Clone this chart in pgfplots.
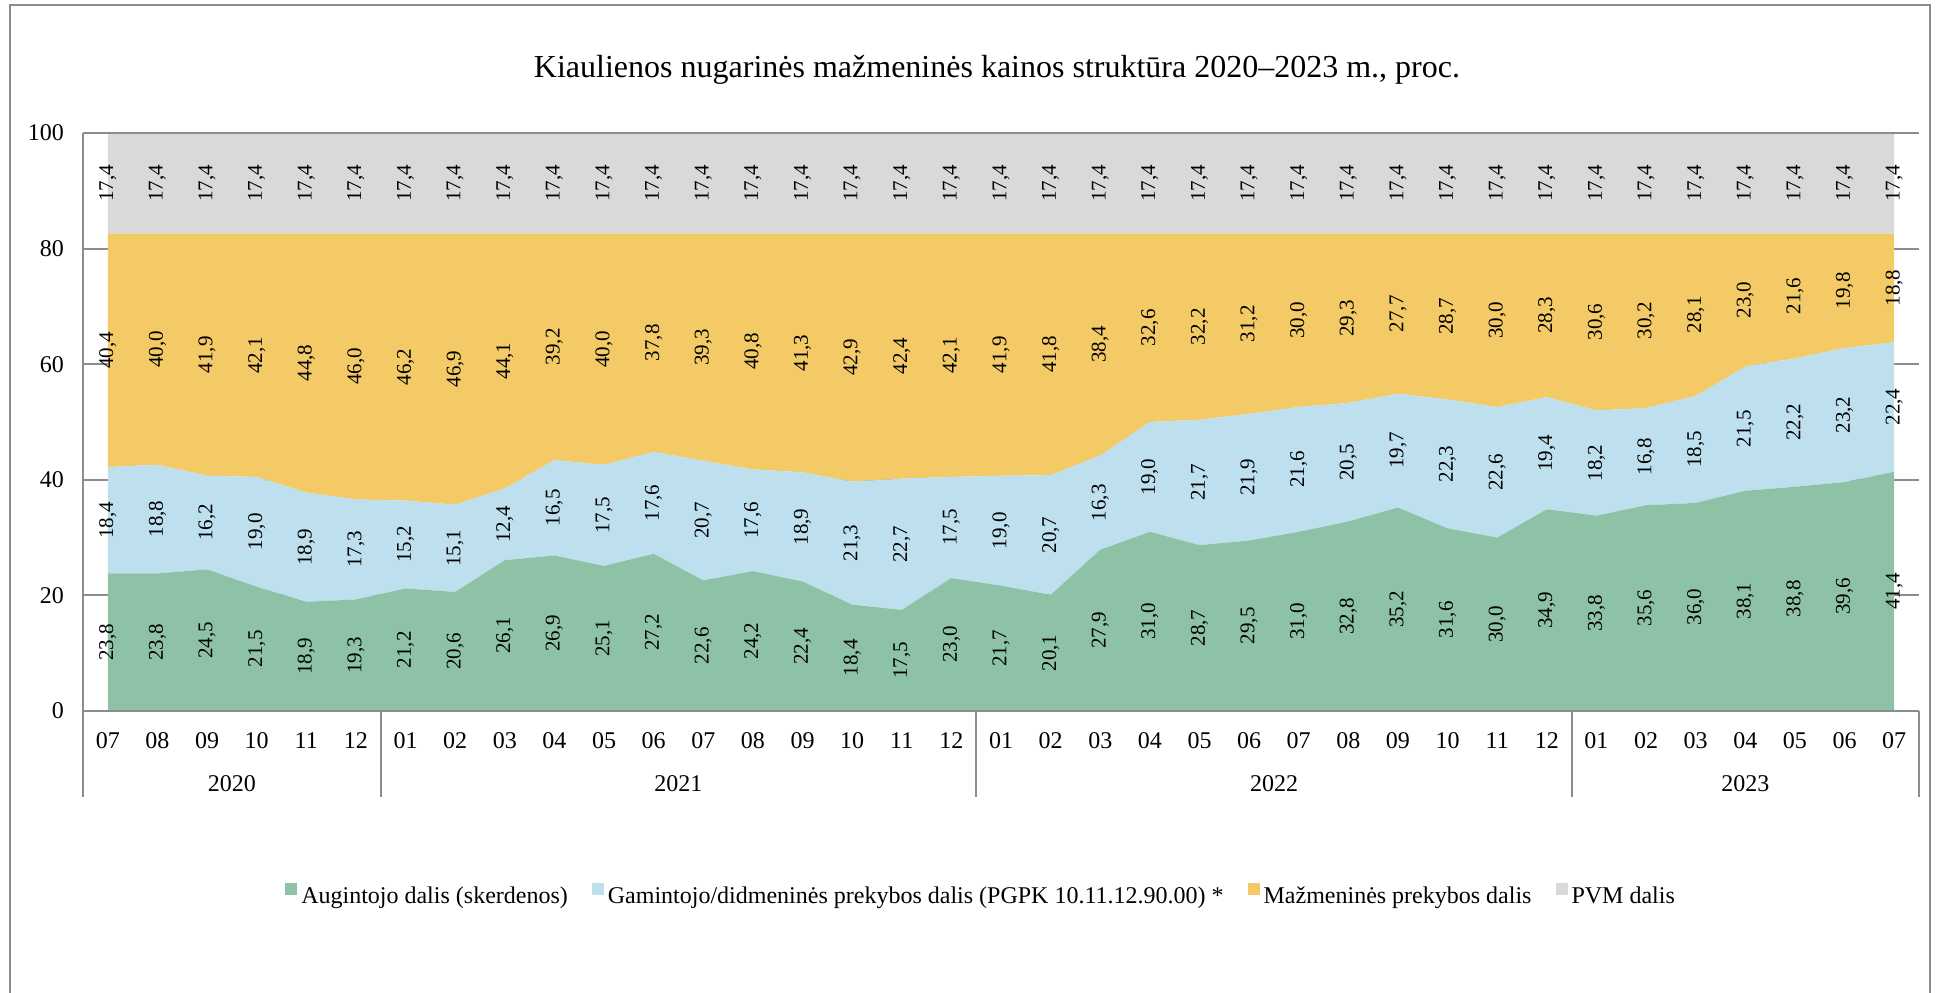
\documentclass[border=0pt]{standalone}
\usepackage{fontspec}
\setmainfont{Liberation Serif}
\usepackage{pgfplots}
\pgfplotsset{compat=1.18}
\usepackage{pgfplotstable}

\definecolor{cgreen}{HTML}{8DC2A6}
\definecolor{cblue}{HTML}{BDDFEE}
\definecolor{corange}{HTML}{F3CA66}
\definecolor{cgray}{HTML}{D9D9D9}
\definecolor{lgray}{HTML}{8C8C8C}

\pgfplotstableread{
x g b o p
0 23.8 18.4 40.4 17.4
1 23.8 18.8 40.0 17.4
2 24.5 16.2 41.9 17.4
3 21.5 19.0 42.1 17.4
4 18.9 18.9 44.8 17.4
5 19.3 17.3 46.0 17.4
6 21.2 15.2 46.2 17.4
7 20.6 15.1 46.9 17.4
8 26.1 12.4 44.1 17.4
9 26.9 16.5 39.2 17.4
10 25.1 17.5 40.0 17.4
11 27.2 17.6 37.8 17.4
12 22.6 20.7 39.3 17.4
13 24.2 17.6 40.8 17.4
14 22.4 18.9 41.3 17.4
15 18.4 21.3 42.9 17.4
16 17.5 22.7 42.4 17.4
17 23.0 17.5 42.1 17.4
18 21.7 19.0 41.9 17.4
19 20.1 20.7 41.8 17.4
20 27.9 16.3 38.4 17.4
21 31.0 19.0 32.6 17.4
22 28.7 21.7 32.2 17.4
23 29.5 21.9 31.2 17.4
24 31.0 21.6 30.0 17.4
25 32.8 20.5 29.3 17.4
26 35.2 19.7 27.7 17.4
27 31.6 22.3 28.7 17.4
28 30.0 22.6 30.0 17.4
29 34.9 19.4 28.3 17.4
30 33.8 18.2 30.6 17.4
31 35.6 16.8 30.2 17.4
32 36.0 18.5 28.1 17.4
33 38.1 21.5 23.0 17.4
34 38.8 22.2 21.6 17.4
35 39.6 23.2 19.8 17.4
36 41.4 22.4 18.8 17.4
}\datatable

\begin{document}
\begin{tikzpicture}
\useasboundingbox (0pt,0pt) rectangle (968.5pt,496pt);
\draw[lgray, line width=1pt] (5pt,-3pt) -- (5pt,493.5pt) -- (965pt,493.5pt) -- (965pt,-3pt);
\node[anchor=base, font=\fontsize{16}{19}\selectfont] at (498.5pt,457pt)
  {Kiaulienos nugarinės mažmeninės kainos struktūra 2020–2023 m., proc.};
\begin{axis}[
  at={(41.5pt,140.5pt)}, anchor=south west,
  scale only axis, width=918pt, height=289pt,
  xmin=-0.5, xmax=36.5, ymin=0, ymax=100,
  stack plots=y,
  axis line style={draw=none},
  major tick length=0pt,
  ymajorgrids, grid style={lgray, line width=1pt},
  ytick={0,20,40,60,80,100},
  xtick={0,...,36},
  xticklabels={07,08,09,10,11,12,01,02,03,04,05,06,07,08,09,10,11,12,01,02,03,04,05,06,07,08,09,10,11,12,01,02,03,04,05,06,07},
  /pgf/number format/assume math mode=true,
  tick label style={font=\fontsize{12}{14}\selectfont},
  yticklabel style={anchor=east, xshift=-6pt},
  xticklabel style={anchor=base, yshift=-18.5pt},
  point meta=explicit symbolic,
  nodes near coords={\pgfmathprintnumber[assume math mode=true, fixed, fixed zerofill, precision=1, use comma]{\pgfplotspointmeta}},
  every node near coord/.append style={font=\fontsize{10.5}{12}\selectfont, text=black, anchor=center, inner sep=0pt, yshift=-\pgfplotspointmeta*1.445pt, rotate=90},
  legend style={at={(0.4897,-0.3218)}, anchor=center, draw=none, fill=none, legend columns=-1,
    font=\fontsize{12}{14}\selectfont,
    /tikz/every even column/.append style={column sep=10pt}},
  legend image code/.code={\fill[#1] (0pt,1pt) rectangle (6pt,7pt);},
]
\addplot[fill=cgreen, draw=none] table[x=x, y=g, meta=g] {\datatable} \closedcycle;
\addlegendentry{Augintojo dalis (skerdenos)}
\addplot[fill=cblue, draw=none] table[x=x, y=b, meta=b] {\datatable} \closedcycle;
\addlegendentry{Gamintojo/didmeninės prekybos dalis (PGPK 10.11.12.90.00) *}
\addplot[fill=corange, draw=none] table[x=x, y=o, meta=o] {\datatable} \closedcycle;
\addlegendentry{Mažmeninės prekybos dalis}
\addplot[fill=cgray, draw=none] table[x=x, y=p, meta=p] {\datatable} \closedcycle;
\addlegendentry{PVM dalis}
\end{axis}
\draw[lgray, line width=1pt] (41.5pt,429.5pt) -- (959.5pt,429.5pt);
\draw[lgray, line width=1pt] (41.5pt,140.5pt) -- (959.5pt,140.5pt);
\draw[lgray, line width=1pt] (41.5pt,429.5pt) -- (41.5pt,97.5pt);
\foreach \xx in {190.4,488.1,785.8,959.5} \draw[lgray, line width=1pt] (\xx pt,140.5pt) -- (\xx pt,97.5pt);
\foreach \xx/\yy in {115.9/2020,339.2/2021,637.0/2022,872.7/2023}
  \node[anchor=base, font=\fontsize{12}{14}\selectfont, inner sep=0pt] at (\xx pt,100.5pt) {\yy};
\end{tikzpicture}
\end{document}
